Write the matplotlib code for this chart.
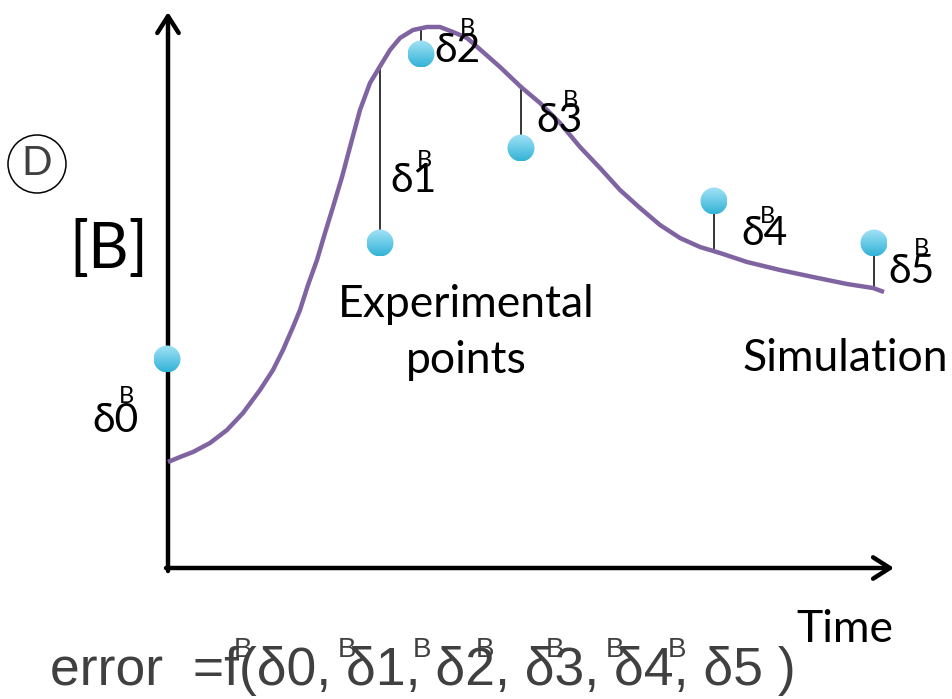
import numpy as np
import matplotlib.pyplot as plt
from matplotlib.patches import Circle

# Schematic: simulated [B] vs time with experimental points and residuals
# Units: 1 unit = 1 px, origin at the axes corner

# Simulation curve
sim_t = [0, 12, 25, 42, 59, 75, 92, 105, 115, 125, 132, 140, 149, 157, 165,
         174, 182, 192, 202, 211, 222, 232, 245, 259, 272, 285, 299, 315, 332,
         353, 372, 392, 412, 432, 452, 472, 492, 512, 532, 552, 579, 612, 645,
         679, 705, 716]
sim_b = [106, 111, 116, 125, 138, 155, 178, 198, 218, 241, 258, 283, 308, 335,
         361, 391, 421, 458, 485, 500, 518, 530, 538, 541, 541, 536, 530, 516,
         501, 481, 465, 445, 421, 400, 378, 360, 343, 330, 321, 315, 306, 298,
         291, 284, 280, 276]

# Experimental points
exp_t = [-1, 212, 253, 353, 546, 706]
exp_b = [209, 325, 514, 420, 367, 325]

# Residual labels: text position (centre x, baseline) and superscript B
lab_names = ['δ0', 'δ1', 'δ2', 'δ3', 'δ4', 'δ5']
lab_x = [-52, 246, 290, 391, 597, 744]
lab_y = [136, 376, 506, 436, 323, 285]
sup_x = [-42, 256, 299, 402, 599, 753]
sup_y = [165, 401, 533, 461, 345, 313]

# Bottom formula and the stray superscript B's on it
formula = 'error  =f(δ0, δ1, δ2, δ3, δ4, δ5 )'
formula_sup_x = [75, 179, 254, 317, 387, 447, 509]

CURVE = '#8064a2'
TXT = 'black'
GREY = '#404040'

fig = plt.figure(figsize=(9.53, 6.99), dpi=100)
ax = fig.add_axes([0, 0, 1, 1])
ax.axis('off')

# axes with arrows
arrow = dict(arrowstyle='->,head_length=0.55,head_width=0.35', lw=3.2,
             color='black', mutation_scale=22, shrinkA=0, shrinkB=0)
ax.annotate('', xy=(0, 556), xytext=(0, -3), arrowprops=arrow)
ax.annotate('', xy=(726, 0), xytext=(-2, 0), arrowprops=arrow)

# simulation curve
ax.plot(sim_t, sim_b, color=CURVE, lw=3.2, solid_capstyle='butt',
        solid_joinstyle='round', zorder=3)

# residual lines
for t, b in zip(exp_t[1:], exp_b[1:]):
    yc = np.interp(t, sim_t, sim_b)
    ax.plot([t, t], [yc, b], color='black', lw=1.1, zorder=2)

# gradient-filled experimental points
grad = np.linspace(0, 1, 64).reshape(-1, 1)
top = np.array([0.64, 0.89, 0.97])
bot = np.array([0.20, 0.70, 0.84])
img = top * (1 - grad[..., None]) + bot * grad[..., None]
r = 13.5
for t, b in zip(exp_t, exp_b):
    im = ax.imshow(img, extent=[t - r, t + r, b - r, b + r], origin='upper',
                   zorder=5, interpolation='bilinear')
    im.set_clip_path(Circle((t, b), r, transform=ax.transData))
ax.set_xlim(-168, 953 - 168)
ax.set_ylim(568 - 699, 568)
ax.set_aspect('auto')

# residual labels
for i, name in enumerate(lab_names):
    ax.text(lab_x[i], lab_y[i], name, family='Lato', fontsize=29.5, color=TXT,
            ha='center', va='baseline', zorder=6)
    ax.text(sup_x[i], sup_y[i], 'B', family='Lato', fontsize=17, color=TXT,
            ha='center', va='baseline', zorder=6)

# other labels
ax.text(298, 251, 'Experimental', family='Lato', fontsize=32, color=TXT,
        ha='center', va='baseline')
ax.text(298, 195, 'points', family='Lato', fontsize=32, color=TXT,
        ha='center', va='baseline')
ax.text(677, 197, 'Simulation', family='Lato', fontsize=32, color=TXT,
        ha='center', va='baseline')
ax.text(677, -74, 'Time', family='Lato', fontsize=32, color=TXT,
        ha='center', va='baseline')
ax.text(-59, 300, '[B]', family='Lato', fontsize=45, color=TXT,
        ha='center', va='baseline')

# circled panel letter
ax.add_patch(Circle((-131, 404), 29, fill=False, lw=1.1, color='black'))
ax.text(-131, 393, 'D', family='Lato', fontsize=29, color=GREY,
        ha='center', va='baseline')

# error formula
fam = ['Liberation Sans', 'DejaVu Sans']
ax.text(-118, -117, formula, family=fam, fontsize=38.5, color=GREY,
        ha='left', va='baseline')
for x in formula_sup_x:
    ax.text(x, -89, 'B', family=fam, fontsize=20, color=GREY,
            ha='center', va='baseline')

fig.savefig('out.png', dpi=100)
